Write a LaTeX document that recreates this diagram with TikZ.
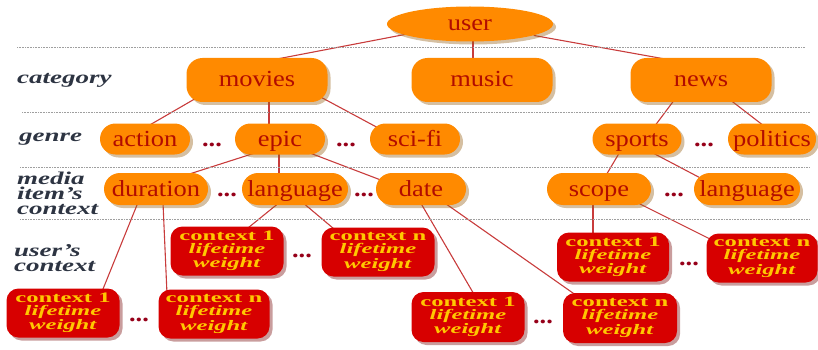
\documentclass[tikz,border=0pt]{standalone}
\usepackage{fontspec}
\newfontfamily\nodefont{Liberation Serif}[FakeStretch=1.15]
\newfontfamily\labfont{Liberation Serif}[FakeStretch=1.5]
\newfontfamily\ctxfont{Liberation Serif}[FakeStretch=1.7]
\usetikzlibrary{shapes.geometric,shadows,calc}
\pgfdeclarelayer{background}
\pgfsetlayers{background,main}
\definecolor{orangeF}{RGB}{255,138,0}
\definecolor{nodeText}{RGB}{178,12,0}
\definecolor{ctxRed}{RGB}{215,0,0}
\definecolor{gold}{RGB}{255,200,0}
\definecolor{edgeRed}{RGB}{200,60,60}
\definecolor{dotRed}{RGB}{150,0,25}
\definecolor{labText}{RGB}{45,52,66}
\definecolor{shadowO}{RGB}{150,95,20}
\definecolor{shadowR}{RGB}{120,10,10}
\tikzset{
  onode/.style={fill=orangeF, text=nodeText, font=\nodefont\fontsize{23}{26}\selectfont,
    inner sep=0pt, text height=16pt, text depth=2pt,
    drop shadow={fill=shadowO, opacity=0.4, shadow xshift=3pt, shadow yshift=-3pt}},
  usernode/.style={onode, ellipse, minimum width=166pt, minimum height=35pt},
  catbox/.style={onode, rounded corners=16pt, minimum width=141pt, minimum height=44pt},
  pill/.style={onode, rounded corners=15.5pt, minimum height=31pt},
  mpill/.style={onode, rounded corners=16pt, minimum height=32pt},
  ctxbox/.style={fill=ctxRed, text=gold, font=\ctxfont\bfseries\fontsize{14.5}{13}\selectfont,
    rounded corners=12pt, minimum width=113pt, minimum height=49pt, inner sep=0pt, align=center,
    drop shadow={fill=shadowR, opacity=0.4, shadow xshift=3pt, shadow yshift=-3pt}},
  lab/.style={anchor=west, font=\labfont\itshape\bfseries\fontsize{18}{15}\selectfont,
    text=labText, align=left, inner sep=0pt},
  sepline/.style={densely dotted, gray!75, line width=0.6pt},
  conn/.style={draw=edgeRed, line width=1.1pt},
  dotsnode/.style={anchor=base, text=dotRed, font=\nodefont\bfseries\fontsize{23}{26}\selectfont, inner sep=0pt}
}
\newcommand{\ctxtext}[1]{context #1\\\textit{lifetime}\\\textit{weight}}
\begin{document}
\begin{tikzpicture}[x=1pt,y=-1pt]
\useasboundingbox (0,0) rectangle (818,350);
% separators
\draw[sepline] (17,47) -- (805,47);
\draw[sepline] (22,112) -- (810,112);
\draw[sepline] (20,167) -- (810,167);
\draw[sepline] (20,219) -- (810,219);
% labels
\node[lab] (Lcat) at (17,80) {category};
\node[lab] (Lgen) at (19,139) {genre};
\node[lab] (Lmed) at (17,193) {media\\item’s\\context};
\node[lab] (Lusr) at (14,258) {user’s\\context};
% nodes
\node[usernode] (user) at (470,24) {user};
\node[catbox] (movies) at (257,80) {movies};
\node[catbox] (music) at (482,80) {music};
\node[catbox] (news) at (701,80) {news};
\node[pill, minimum width=90pt] (action) at (145,139) {action};
\node[pill, minimum width=90pt] (epic) at (280,139) {epic};
\node[pill, minimum width=90pt] (scifi) at (415,139) {sci-fi};
\node[pill, minimum width=89pt] (sports) at (637,139) {sports};
\node[pill, minimum width=88pt] (politics) at (772,139) {politics};
\node[mpill, minimum width=104pt] (duration) at (156,189) {duration};
\node[mpill, minimum width=106pt] (language) at (295,189) {language};
\node[mpill, minimum width=90pt] (date) at (421,189) {date};
\node[mpill, minimum width=104pt] (scope) at (599,189) {scope};
\node[mpill, minimum width=106pt] (language2) at (747,189) {language};
\node[ctxbox] (ctx1a) at (227,251) {\ctxtext{1}};
\node[ctxbox] (ctxna) at (378,252) {\ctxtext{n}};
\node[ctxbox] (ctx1b) at (63,313) {\ctxtext{1}};
\node[ctxbox, minimum width=111pt] (ctxnb) at (214,314) {\ctxtext{n}};
\node[ctxbox, minimum height=50pt] (ctx1c) at (468,317) {\ctxtext{1}};
\node[ctxbox, minimum height=50pt, minimum width=114pt] (ctxnc) at (620,318) {\ctxtext{n}};
\node[ctxbox, minimum width=112pt] (ctx1d) at (613,257) {\ctxtext{1}};
\node[ctxbox, minimum width=111pt] (ctxnd) at (762,258) {\ctxtext{n}};
% dots
\node[dotsnode] (d1) at (212,146) {...};
\node[dotsnode] (d2) at (346,146) {...};
\node[dotsnode] (d3) at (704,146) {...};
\node[dotsnode] (d4) at (227,196) {...};
\node[dotsnode] (d5) at (364,196) {...};
\node[dotsnode] (d6) at (674,196) {...};
\node[dotsnode] (d7) at (302,257) {...};
\node[dotsnode] (d8) at (139,321) {...};
\node[dotsnode] (d9) at (543,323) {...};
\node[dotsnode] (d10) at (689,265) {...};
% connectors
\begin{pgfonlayer}{background}
\draw[conn] ($(user)+(0,-2)$) -- ($(movies)+(20,-21)$);
\draw[conn] ($(user)+(3,0)$) -- ($(music)+(-9,-10)$);
\draw[conn] (user) -- ($(news)+(-36,-21)$);
\draw[conn] ($(movies)+(-52,13)$) -- ($(action)+(3,-13)$);
\draw[conn] ($(movies)+(12,15)$) -- ($(epic)+(-11,-9)$);
\draw[conn] ($(movies)+(58,14)$) -- ($(scifi)+(-33,-9)$);
\draw[conn] ($(news)+(-26,19)$) -- ($(sports)+(17,-12)$);
\draw[conn] ($(news)+(28,19)$) -- ($(politics)+(-8,-13)$);
\draw[conn] ($(epic)+(-22,13)$) -- ($(duration)+(24,-12)$);
\draw[conn] ($(epic)+(-1,11)$) -- ($(language)+(-16,-11)$);
\draw[conn] ($(epic)+(22,11)$) -- ($(date)+(-35,-7)$);
\draw[conn] ($(sports)+(-16,11)$) -- ($(scope)+(6,-12)$);
\draw[conn] ($(sports)+(14,13)$) -- ($(language2)+(-39,-7)$);
\draw[conn] ($(duration)+(-17,11)$) -- ($(ctx1b)+(38,-19)$);
\draw[conn] ($(duration)+(7,14)$) -- ($(ctxnb)+(-47,-20)$);
\draw[conn] ($(language)+(-15,13)$) -- ($(ctx1a)+(16,-19)$);
\draw[conn] ($(language)+(7,13)$) -- ($(ctxna)+(-38,-18)$);
\draw[conn] ($(date)+(-2,11)$) -- ($(ctx1c)+(7,-21)$);
\draw[conn] ($(date)+(18,10)$) -- ($(ctxnc)+(-40,-20)$);
\draw[conn] ($(scope)+(-6,11)$) -- ($(ctx1d)+(-20,-17)$);
\draw[conn] ($(scope)+(31,10)$) -- ($(ctxnd)+(-42,-14)$);
\end{pgfonlayer}
\end{tikzpicture}
\end{document}
